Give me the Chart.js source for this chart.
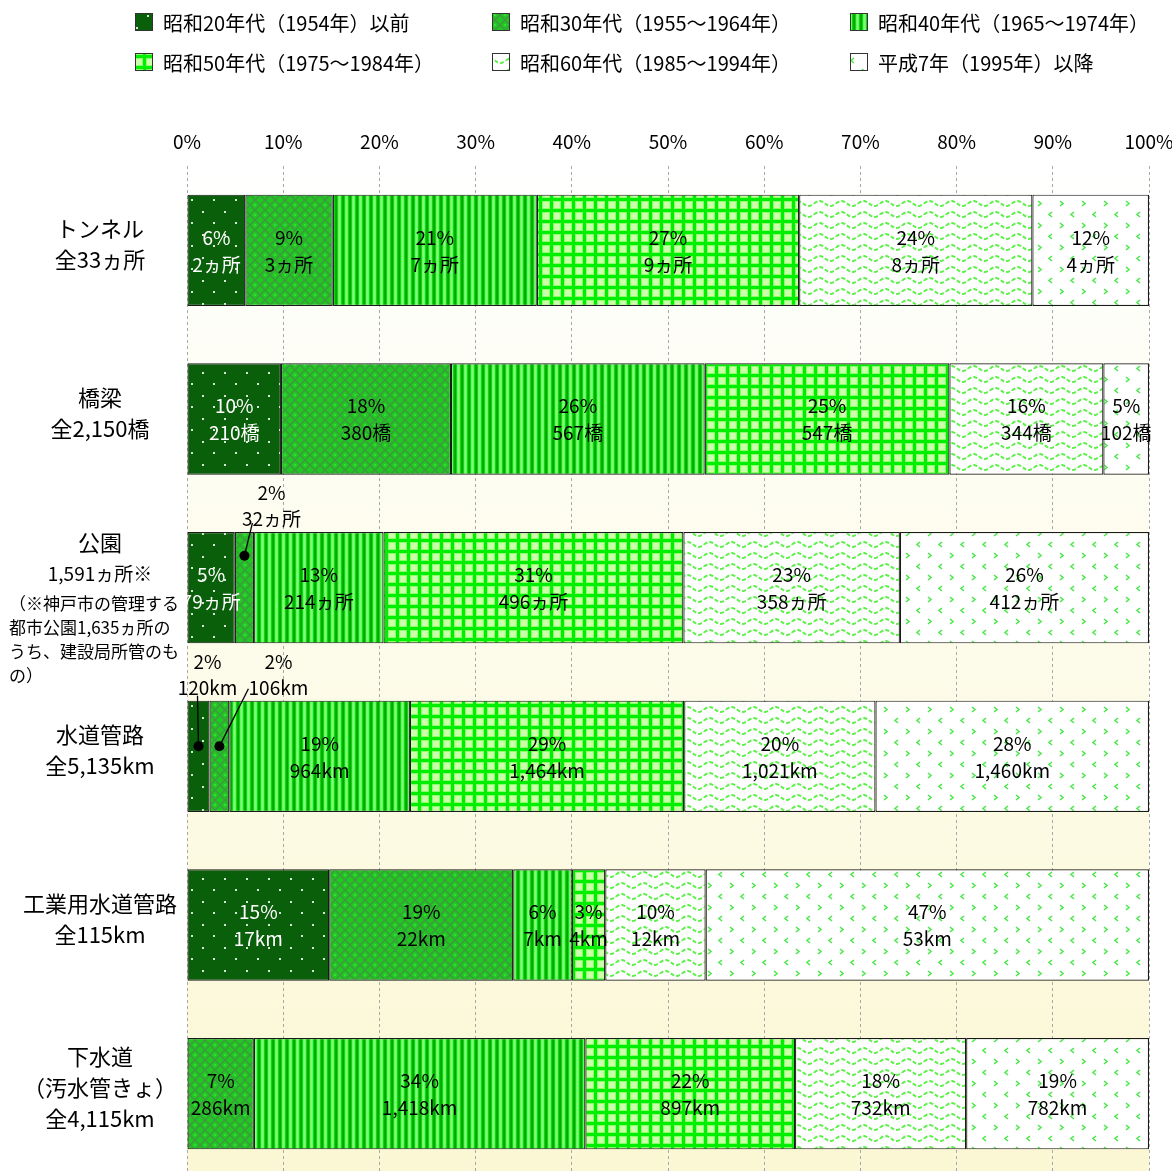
<!DOCTYPE html>
<html lang="ja">
<head>
<meta charset="utf-8">
<title>整備年代別の施設構成</title>
<script src="https://cdn.jsdelivr.net/npm/chart.js@4.4.1/dist/chart.umd.min.js"></script>
<style>
  html, body { margin: 0; padding: 0; background: #fff; }
  #wrap { width: 1172px; height: 1171px; overflow: hidden; position: relative; }
  #grafico { display: block; }
</style>
</head>
<body>
<div id="wrap"><canvas id="grafico" width="1172" height="1178" style="width:1172px;height:1178px"></canvas></div>
<script>
// 施設ごとの行ラベル
const categorias = [
  ['トンネル', '全33ヵ所'],
  ['橋梁', '全2,150橋'],
  ['公園', '1,591ヵ所※'],
  ['水道管路', '全5,135km'],
  ['工業用水道管路', '全115km'],
  ['下水道', '（汚水管きょ）', '全4,115km']
];
const notaParque = ['（※神戸市の管理する', '都市公園1,635ヵ所の', 'うち、建設局所管のも', 'の）'];
const unidades = ['ヵ所', '橋', 'ヵ所', 'km', 'km', 'km'];

// 年代区分
const eras = [
  '昭和20年代（1954年）以前',
  '昭和30年代（1955～1964年）',
  '昭和40年代（1965～1974年）',
  '昭和50年代（1975～1984年）',
  '昭和60年代（1985～1994年）',
  '平成7年（1995年）以降'
];

// 件数・延長（行ごと）
const qS20 = [2, 210, 79, 120, 17, 0];
const qS30 = [3, 380, 32, 106, 22, 286];
const qS40 = [7, 567, 214, 964, 7, 1418];
const qS50 = [9, 547, 496, 1464, 4, 897];
const qS60 = [8, 344, 358, 1021, 12, 732];
const qH7  = [4, 102, 412, 1460, 53, 782];

// 表示する割合（%）
const pS20 = [6, 10, 5, 2, 15, null];
const pS30 = [9, 18, 2, 2, 19, 7];
const pS40 = [21, 26, 13, 19, 6, 34];
const pS50 = [27, 25, 31, 29, 3, 22];
const pS60 = [24, 16, 23, 20, 10, 18];
const pH7  = [12, 5, 26, 28, 47, 19];

const quantidades = [qS20, qS30, qS40, qS50, qS60, qH7];
const percentuais = [pS20, pS30, pS40, pS50, pS60, pH7];

const FONTE = "'Liberation Sans Narrow','Noto Sans CJK JP',sans-serif";
const FONTE_JP = "'Noto Sans CJK JP',sans-serif";

const ctxBase = document.getElementById('grafico').getContext('2d');

function padrao(w, h, desenhar) {
  const c = document.createElement('canvas');
  c.width = w; c.height = h;
  desenhar(c.getContext('2d'), w, h);
  return ctxBase.createPattern(c, 'repeat');
}

// 年代ごとの塗りパターン
const padroes = [
  padrao(22, 23, (g, w, h) => {
    g.fillStyle = '#0a5f0a'; g.fillRect(0, 0, w, h);
    g.fillStyle = '#d5e6d5';
    g.fillRect(4, 4, 2, 2); g.fillRect(15, 15, 2, 2);
  }),
  padrao(10, 10, (g, w, h) => {
    g.fillStyle = '#22c822'; g.fillRect(0, 0, w, h);
    g.strokeStyle = '#3f9640'; g.lineWidth = 1.4;
    g.beginPath();
    g.moveTo(0, 5); g.lineTo(5, 0); g.lineTo(10, 5); g.lineTo(5, 10); g.closePath();
    g.stroke();
    g.fillStyle = '#33dd33'; g.fillRect(4, 4, 2, 2);
  }),
  padrao(7, 4, (g, w, h) => {
    const cores = ['#00a800', '#19d019', '#5cff5c', '#8cff7a', '#5cff5c', '#19d019', '#00b400'];
    cores.forEach((c, i) => { g.fillStyle = c; g.fillRect(i, 0, 1, h); });
  }),
  padrao(11, 11, (g, w, h) => {
    g.fillStyle = '#00ee00'; g.fillRect(0, 0, w, h);
    g.fillStyle = '#8cff6c'; g.fillRect(3, 3, 8, 8);
    g.fillStyle = '#ccffaa'; g.fillRect(4, 4, 6, 6);
  }),
  padrao(22, 11, (g, w, h) => {
    g.fillStyle = '#ffffff'; g.fillRect(0, 0, w, h);
    g.strokeStyle = '#5ef04a'; g.lineWidth = 2;
    g.setLineDash([4, 2]);
    g.beginPath();
    for (let x = 0; x <= w; x++) {
      const y = 5.5 - 2.5 * Math.sin(2 * Math.PI * x / w);
      if (x === 0) g.moveTo(x, y); else g.lineTo(x, y);
    }
    g.stroke();
  }),
  padrao(22, 22, (g, w, h) => {
    g.fillStyle = '#ffffff'; g.fillRect(0, 0, w, h);
    g.strokeStyle = '#4ee84e'; g.lineWidth = 1.6;
    g.beginPath();
    g.moveTo(4, 3); g.lineTo(7, 5.5); g.lineTo(4, 8);
    g.moveTo(18, 14); g.lineTo(15, 16.5); g.lineTo(18, 19);
    g.stroke();
  })
];

// 棒の外に出す小さいラベル（引出線つき）
const chamadas = [
  { linha: 2, serie: 1, dx: 27, de: [8, -9], pontoDy: -32 },
  { linha: 3, serie: 0, dx: 9, de: [-1, -5], pontoDy: -10 },
  { linha: 3, serie: 1, dx: 59, de: [29, -12], pontoDy: -10 }
];

function ehChamada(serie, linha) {
  return chamadas.some(c => c.linha === linha && c.serie === serie);
}

function fmt(v, linha) {
  return v.toLocaleString('en-US') + unidades[linha];
}

const datasets = eras.map((nome, i) => ({
  label: nome,
  data: quantidades[i].map((q, r) => {
    if (!q) return null;
    const total = quantidades.reduce((s, arr) => s + arr[r], 0);
    return q / total * 100;
  }),
  backgroundColor: padroes[i],
  borderColor: '#1a1a1a',
  borderWidth: 1.2,
  borderSkipped: false,
  categoryPercentage: 1,
  barPercentage: 0.66
}));

const fundo = {
  id: 'fundo',
  beforeDraw(chart) {
    const { ctx, chartArea: a } = chart;
    const g = ctx.createLinearGradient(0, a.top, 0, chart.height);
    g.addColorStop(0, '#ffffff');
    g.addColorStop(0.15, '#fefef8');
    g.addColorStop(1, '#fbf7d4');
    ctx.save();
    ctx.fillStyle = g;
    ctx.fillRect(a.left, a.top, a.right - a.left, chart.height - a.top);
    ctx.restore();
  }
};

const rotulosBarras = {
  id: 'rotulosBarras',
  afterDatasetsDraw(chart) {
    const ctx = chart.ctx;
    ctx.save();
    ctx.textAlign = 'center';
    ctx.textBaseline = 'middle';
    ctx.font = '19px ' + FONTE;
    chart.data.datasets.forEach((ds, i) => {
      chart.getDatasetMeta(i).data.forEach((el, r) => {
        if (ds.data[r] == null) return;
        const p = el.getProps(['x', 'y', 'base', 'height'], true);
        const cx = (p.x + p.base) / 2;
        const txtPct = percentuais[i][r] + '%';
        const txtQtd = fmt(quantidades[i][r], r);
        if (ehChamada(i, r)) {
          const c = chamadas.find(k => k.linha === r && k.serie === i);
          const topo = p.y - p.height / 2;
          ctx.fillStyle = '#000';
          ctx.fillText(txtPct, cx + c.dx, topo - 39);
          ctx.fillText(txtQtd, cx + c.dx, topo - 13);
          ctx.strokeStyle = '#000';
          ctx.lineWidth = 1.3;
          ctx.beginPath();
          ctx.moveTo(cx + c.de[0], topo + c.de[1]);
          ctx.lineTo(cx, p.y + c.pontoDy);
          ctx.stroke();
          ctx.beginPath();
          ctx.arc(cx, p.y + c.pontoDy, 5, 0, Math.PI * 2);
          ctx.fill();
          return;
        }
        ctx.fillStyle = i === 0 ? '#ffffff' : '#000000';
        ctx.fillText(txtPct, cx, p.y - 13);
        ctx.fillText(txtQtd, cx, p.y + 14);
      });
    });
    ctx.restore();
  }
};

const rotulosCategorias = {
  id: 'rotulosCategorias',
  afterDraw(chart) {
    const ctx = chart.ctx;
    const y = chart.scales.y;
    ctx.save();
    ctx.fillStyle = '#000';
    ctx.textBaseline = 'middle';
    categorias.forEach((linhas, r) => {
      const cy = y.getPixelForValue(r);
      ctx.textAlign = 'center';
      if (r === 2) {
        ctx.font = '22px ' + FONTE_JP;
        ctx.fillText(linhas[0], 100, cy - 45);
        ctx.font = '19px ' + FONTE;
        ctx.fillText(linhas[1], 100, cy - 14);
        ctx.textAlign = 'left';
        ctx.font = '17px ' + FONTE;
        notaParque.forEach((t, k) => ctx.fillText(t, 9, cy + 16 + k * 24));
        return;
      }
      ctx.font = '22px ' + FONTE;
      const y0 = cy - 6 - (linhas.length - 1) * 31 / 2;
      linhas.forEach((t, k) => ctx.fillText(t, 100, y0 + k * 31));
    });
    ctx.restore();
  }
};

const legenda = {
  id: 'legenda',
  afterDraw(chart) {
    const ctx = chart.ctx;
    const colunas = [135, 492, 850];
    const filas = [22, 62];
    ctx.save();
    ctx.font = '20px ' + FONTE;
    ctx.textBaseline = 'middle';
    ctx.textAlign = 'left';
    eras.forEach((nome, i) => {
      const x = colunas[i % 3];
      const y = filas[Math.floor(i / 3)];
      ctx.fillStyle = padroes[i];
      ctx.fillRect(x, y - 9, 18, 18);
      ctx.strokeStyle = '#333';
      ctx.lineWidth = 1;
      ctx.strokeRect(x + 0.5, y - 8.5, 17, 17);
      ctx.fillStyle = '#000';
      ctx.fillText(nome, x + 28, y + 1);
    });
    ctx.restore();
  }
};

new Chart(ctxBase, {
  type: 'bar',
  data: {
    labels: categorias.map(c => c[0]),
    datasets: datasets
  },
  options: {
    indexAxis: 'y',
    responsive: false,
    animation: false,
    events: [],
    layout: { padding: { left: 187, right: 23, top: 0, bottom: 0 } },
    plugins: {
      legend: { display: false },
      tooltip: { enabled: false }
    },
    scales: {
      x: {
        position: 'top',
        stacked: true,
        min: 0,
        max: 100,
        afterFit: s => {
          s.height = 166;
          // 目盛ラベルのはみ出しで描画領域を縮めない
          s.paddingLeft = 0;
          s.paddingRight = 0;
        },
        ticks: {
          stepSize: 10,
          padding: 13,
          color: '#000',
          font: { family: FONTE, size: 19 },
          callback: v => v + '%'
        },
        grid: { color: '#a8a8a8', lineWidth: 1, drawTicks: false },
        border: { display: false, dash: [3, 3] }
      },
      y: {
        stacked: true,
        display: false
      }
    }
  },
  plugins: [fundo, rotulosBarras, rotulosCategorias, legenda]
});
</script>
</body>
</html>
